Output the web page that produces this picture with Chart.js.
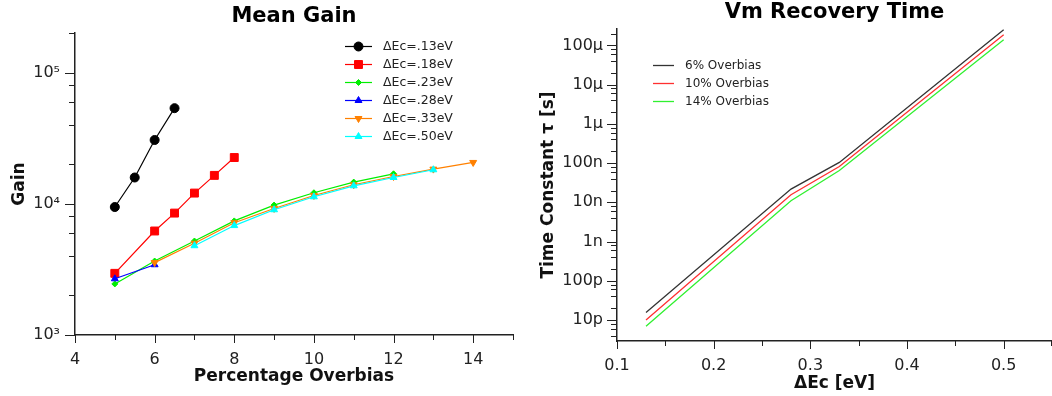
<!DOCTYPE html>
<html><head><meta charset="utf-8">
<script src="https://cdn.jsdelivr.net/npm/chart.js@4.4.0/dist/chart.umd.min.js"></script>
<style>
html,body{margin:0;padding:0;background:#fff;width:1052px;height:396px;overflow:hidden}
#w1{position:absolute;left:0;top:0;width:530px;height:396px}
#w2{position:absolute;left:530px;top:0;width:522px;height:396px}
</style></head><body>
<div id="w1"><canvas id="c1"></canvas></div>
<div id="w2"><canvas id="c2"></canvas></div>
<script>
// ---------- Mean Gain data ----------
const seriesNames = ['ΔEc=.13eV','ΔEc=.18eV','ΔEc=.23eV','ΔEc=.28eV','ΔEc=.33eV','ΔEc=.50eV'];
const overbias13 = [5, 5.5, 6, 6.5];
const gain13 = [9440, 15850, 30600, 53500];
const overbias18 = [5, 6, 6.5, 7, 7.5, 8];
const gain18 = [2950, 6200, 8490, 12060, 16450, 22500];
const overbias23 = [5, 6, 7, 8, 9, 10, 11, 12];
const gain23 = [2450, 3660, 5200, 7400, 9770, 12130, 14620, 16910];
const overbias28 = [5, 6];
const gain28 = [2680, 3430];
const overbias33 = [6, 7, 8, 9, 10, 11, 12, 13, 14];
const gain33 = [3560, 5000, 7170, 9210, 11560, 13950, 16130, 18360, 20640];
const overbias50 = [7, 8, 9, 10, 11, 12, 13];
const gain50 = [4790, 6820, 9000, 11300, 13700, 15850, 18150];
const overbiasTicks = [4,5,6,7,8,9,10,11,12,13,14,15];
const overbiasLabels = {4:'4',6:'6',8:'8',10:'10',12:'12',14:'14'};
const gainTicks = [1000,2000,4000,6000,8000,10000,20000,40000,60000,80000,100000,200000];
const gainLabels = {1000:'10³',10000:'10⁴',100000:'10⁵'};

// ---------- Vm Recovery Time data ----------
const recoveryNames = ['6% Overbias','10% Overbias','14% Overbias'];
const dEc = [0.13, 0.28, 0.33, 0.50];
const tau6 = [1.56e-11, 2.18e-8, 1.04e-7, 2.5e-4];
const tau10 = [1.0e-11, 1.56e-8, 8.2e-8, 1.87e-4];
const tau14 = [6.9e-12, 1.1e-8, 6.5e-8, 1.4e-4];
const dEcTicks = [0.1,0.15,0.2,0.25,0.3,0.35,0.4,0.45,0.5,0.55];
const dEcLabels = ['0.1','0.2','0.3','0.4','0.5'];
const tauTicks = [4e-12,6e-12,8e-12,
  1e-11,2e-11,4e-11,6e-11,8e-11, 1e-10,2e-10,4e-10,6e-10,8e-10,
  1e-9,2e-9,4e-9,6e-9,8e-9, 1e-8,2e-8,4e-8,6e-8,8e-8,
  1e-7,2e-7,4e-7,6e-7,8e-7, 1e-6,2e-6,4e-6,6e-6,8e-6,
  1e-5,2e-5,4e-5,6e-5,8e-5, 1e-4,2e-4];
const tauMajor = [1e-11,1e-10,1e-9,1e-8,1e-7,1e-6,1e-5,1e-4];
const tauMajorLabels = ['10p','100p','1n','10n','100n','1µ','10µ','100µ'];

const FONT = 'DejaVu Sans';
const pts = (xs, ys) => xs.map((x, i) => ({x, y: ys[i]}));
const findMajor = (v) => tauMajor.findIndex(m => Math.abs(Math.log10(v) - Math.log10(m)) < 1e-6);
const noGrid = {display: false, drawTicks: false, tickLength: 0};

const tickMarks = {
  id: 'tickMarks',
  afterDraw(chart, args, o) {
    const ctx = chart.ctx;
    ctx.save();
    ctx.strokeStyle = '#222';
    ctx.lineWidth = 1;
    const xs = chart.scales.x, ys = chart.scales.y;
    xs.ticks.forEach(t => {
      const p = Math.min(Math.round(xs.getPixelForValue(t.value)) + 0.5, chart.width - 0.5);
      const len = o.xMajor(t.value) ? o.xLen[0] : o.xLen[1];
      ctx.beginPath(); ctx.moveTo(p, xs.top); ctx.lineTo(p, xs.top + len); ctx.stroke();
    });
    ys.ticks.forEach(t => {
      const p = Math.round(ys.getPixelForValue(t.value)) + 0.5;
      const len = o.yMajor(t.value) ? o.yLen[0] : o.yLen[1];
      ctx.beginPath(); ctx.moveTo(ys.right, p); ctx.lineTo(ys.right - len, p); ctx.stroke();
    });
    ctx.restore();
  }
};

const mainTitle = {
  id: 'mainTitle',
  afterDraw(chart, args, o) {
    const ctx = chart.ctx, a = chart.chartArea;
    ctx.save();
    ctx.font = 'bold 21px "' + FONT + '"';
    ctx.fillStyle = '#000';
    ctx.textAlign = 'center';
    ctx.textBaseline = 'alphabetic';
    ctx.fillText(o.text, (a.left + a.right) / 2, o.y);
    ctx.restore();
  }
};

const customLegend = {
  id: 'customLegend',
  afterDraw(chart, args, o) {
    const ctx = chart.ctx;
    ctx.save();
    chart.data.datasets.forEach((ds, i) => {
      const y = Math.round(o.y + i * o.dy) + 0.5;
      ctx.strokeStyle = ds.borderColor;
      ctx.lineWidth = ds.borderWidth;
      ctx.beginPath(); ctx.moveTo(o.x1, y); ctx.lineTo(o.x2, y); ctx.stroke();
      if (ds.pointRadius > 0 && Chart.helpers && Chart.helpers.drawPoint) {
        ctx.fillStyle = ds.pointBackgroundColor;
        ctx.strokeStyle = ds.pointBorderColor;
        ctx.lineWidth = 1;
        Chart.helpers.drawPoint(ctx, {pointStyle: ds.pointStyle, rotation: ds.pointRotation || 0,
          radius: ds.pointRadius, borderWidth: 1}, (o.x1 + o.x2) / 2, y);
      }
      ctx.font = o.size + 'px "' + FONT + '"';
      ctx.fillStyle = '#222';
      ctx.textAlign = 'left';
      ctx.textBaseline = 'middle';
      ctx.fillText(ds.label, o.tx, y);
    });
    ctx.restore();
  }
};

function gainDs(i, xs, ys, color, style, r, rot) {
  return {label: seriesNames[i], data: pts(xs, ys), borderColor: color, backgroundColor: color,
    pointBackgroundColor: color, pointBorderColor: color, borderWidth: 1.2,
    pointStyle: style, pointRadius: r, pointRotation: rot || 0, pointBorderWidth: 1,
    order: 5 - i, tension: 0};
}

new Chart(document.getElementById('c1'), {
  type: 'line',
  data: {datasets: [
    gainDs(0, overbias13, gain13, '#000000', 'circle', 4.5),
    gainDs(1, overbias18, gain18, '#ff0000', 'rect', 5.6),
    gainDs(2, overbias23, gain23, '#00ee00', 'rectRot', 3),
    gainDs(3, overbias28, gain28, '#0000ff', 'triangle', 4),
    gainDs(4, overbias33, gain33, '#ff8000', 'triangle', 4, 180),
    gainDs(5, overbias50, gain50, '#00ffff', 'triangle', 4)
  ]},
  options: {
    responsive: true, maintainAspectRatio: false, animation: false,
    layout: {padding: {top: 33, right: 17, bottom: 0, left: 0}},
    plugins: {
      legend: {display: false}, tooltip: {enabled: false},
      mainTitle: {text: 'Mean Gain', y: 21.5},
      customLegend: {x1: 345, x2: 372, tx: 383, y: 45.5, dy: 18, size: 12.5},
      tickMarks: {xMajor: v => overbiasLabels[v] !== undefined, yMajor: v => gainLabels[v] !== undefined,
        xLen: [8, 5], yLen: [10, 6]}
    },
    scales: {
      x: {type: 'linear', min: 4, max: 15,
        afterFit: s => { s.height = 61; },
        afterBuildTicks: s => { s.ticks = overbiasTicks.map(v => ({value: v})); },
        grid: noGrid, border: {display: true, color: '#222', width: 1.5},
        ticks: {autoSkip: false, maxRotation: 0, padding: 15, color: '#222',
          font: {family: FONT, size: 16}, callback: v => overbiasLabels[v] || ''},
        title: {display: true, text: 'Percentage Overbias', color: '#111',
          font: {family: FONT, size: 17, weight: 'bold', lineHeight: 1}, padding: {top: 0, bottom: 11}}
      },
      y: {type: 'logarithmic', min: 1000, max: 200000,
        afterFit: s => { s.width = 75; },
        afterBuildTicks: s => { s.ticks = gainTicks.map(v => ({value: v})); },
        grid: noGrid, border: {display: true, color: '#222', width: 1.5},
        ticks: {autoSkip: false, padding: 15, color: '#222', font: {family: FONT, size: 16},
          callback: v => gainLabels[v] || ''},
        title: {display: true, text: 'Gain', color: '#111',
          font: {family: FONT, size: 17, weight: 'bold', lineHeight: 1}, padding: {top: 11, bottom: 0}}
      }
    }
  },
  plugins: [tickMarks, mainTitle, customLegend]
});

function tauDs(i, ys, color) {
  return {label: recoveryNames[i], data: pts(dEc, ys), borderColor: color, backgroundColor: color,
    borderWidth: 1.3, pointRadius: 0, order: 2 - i, tension: 0};
}

new Chart(document.getElementById('c2'), {
  type: 'line',
  data: {datasets: [
    tauDs(0, tau6, '#333333'),
    tauDs(1, tau10, '#ff3030'),
    tauDs(2, tau14, '#30f030')
  ]},
  options: {
    responsive: true, maintainAspectRatio: false, animation: false,
    layout: {padding: {top: 29, right: 0, bottom: 0, left: 0}},
    plugins: {
      legend: {display: false}, tooltip: {enabled: false},
      mainTitle: {text: 'Vm Recovery Time', y: 17.5},
      customLegend: {x1: 123, x2: 144, tx: 155, y: 64.5, dy: 18, size: 12},
      tickMarks: {xMajor: v => Math.abs(v * 10 - Math.round(v * 10)) < 1e-6, yMajor: v => findMajor(v) >= 0,
        xLen: [8, 5], yLen: [10, 6]}
    },
    scales: {
      x: {type: 'linear', min: 0.1, max: 0.55,
        afterFit: s => { s.height = 55; s.paddingRight = 0; },
        afterBuildTicks: s => { s.ticks = dEcTicks.map(v => ({value: v})); },
        grid: noGrid, border: {display: true, color: '#222', width: 1.5},
        ticks: {autoSkip: false, maxRotation: 0, padding: 15, color: '#222',
          font: {family: FONT, size: 16},
          callback: v => { const k = Math.round(v * 10); return Math.abs(v * 10 - k) < 1e-6 ? dEcLabels[k - 1] : ''; }},
        title: {display: true, text: 'ΔEc [eV]', color: '#111',
          font: {family: FONT, size: 17, weight: 'bold', lineHeight: 1}, padding: {top: 0, bottom: 4}}
      },
      y: {type: 'logarithmic', min: 2.92e-12, max: 2.62e-4,
        afterFit: s => { s.width = 87; },
        afterBuildTicks: s => { s.ticks = tauTicks.map(v => ({value: v})); },
        grid: noGrid, border: {display: true, color: '#222', width: 1.5},
        ticks: {autoSkip: false, padding: 14, color: '#222', font: {family: FONT, size: 16},
          callback: v => { const k = findMajor(v); return k >= 0 ? tauMajorLabels[k] : ''; }},
        title: {display: true, text: 'Time Constant τ [s]', color: '#111',
          font: {family: FONT, size: 17, weight: 'bold', lineHeight: 1}, padding: {top: 10, bottom: 0}}
      }
    }
  },
  plugins: [tickMarks, mainTitle, customLegend]
});
</script>
</body></html>
